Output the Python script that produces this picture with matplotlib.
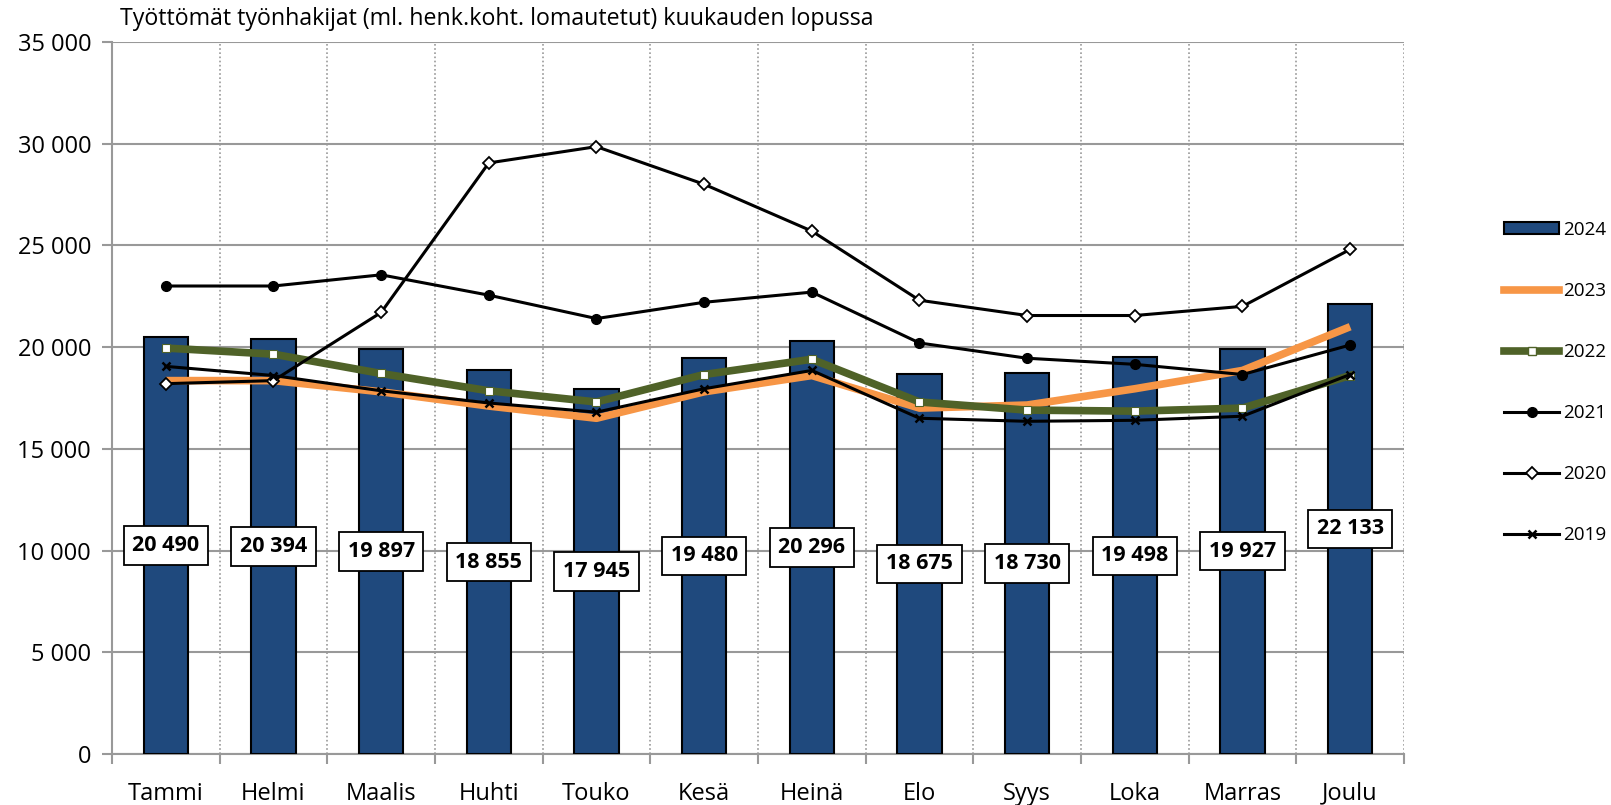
import matplotlib
matplotlib.use("Agg")
import matplotlib.pyplot as plt
from matplotlib.ticker import FuncFormatter, MultipleLocator
from matplotlib.patches import Patch
from matplotlib.lines import Line2D

plt.rcParams['font.family'] = ['Open Sans', 'DejaVu Sans']

months = ["Tammi", "Helmi", "Maalis", "Huhti", "Touko", "Kesä", "Heinä",
          "Elo", "Syys", "Loka", "Marras", "Joulu"]
y2024 = [20490, 20394, 19897, 18855, 17945, 19480, 20296, 18675, 18730, 19498, 19927, 22133]
y2023 = [18350, 18350, 17800, 17100, 16500, 17800, 18600, 17000, 17150, 17950, 18850, 21000]
y2022 = [19950, 19650, 18700, 17850, 17300, 18650, 19400, 17300, 16900, 16850, 17000, 18600]
y2021 = [23000, 23000, 23550, 22550, 21400, 22200, 22700, 20200, 19450, 19150, 18650, 20100]
y2020 = [18200, 18350, 21700, 29050, 29850, 28000, 25700, 22300, 21550, 21550, 22000, 24800]
y2019 = [19050, 18600, 17850, 17250, 16800, 17950, 18850, 16500, 16350, 16400, 16600, 18650]

title = "Työttömät työnhakijat (ml. henk.koht. lomautetut) kuukauden lopussa"

fig = plt.figure(figsize=(16.11, 8.05), dpi=100)
ax = fig.add_axes([0.0695, 0.0634, 0.8020, 0.8846])

x = list(range(len(months)))
grid_c = "#999999"

bars = ax.bar(x, y2024, width=0.41, color="#1F497D", edgecolor="black", linewidth=1.5, zorder=3)
l23, = ax.plot(x, y2023, color="#F79646", lw=5.5, zorder=4, solid_capstyle='butt')
l22, = ax.plot(x, y2022, color="#4F6228", lw=5.5, marker='s', ms=5.5, mfc='white',
               mec='#4F6228', mew=0.8, zorder=5)
l21, = ax.plot(x, y2021, color="black", lw=2.2, marker='o', ms=7, zorder=6)
l20, = ax.plot(x, y2020, color="black", lw=2.2, marker='D', ms=6.5, mfc='white', mec='black',
               mew=1.3, zorder=6)
l19, = ax.plot(x, y2019, color="black", lw=2.2, marker='x', ms=6, mew=1.8, zorder=6)

for xi, v in zip(x, y2024):
    ax.text(xi, v / 2, f"{v:,}".replace(",", " "), ha='center', va='center',
            fontsize=15.5, fontweight='bold', zorder=7,
            bbox=dict(boxstyle='square,pad=0.4', fc='white', ec='black', lw=1.3))

ax.set_xlim(-0.5, 11.5)
ax.set_ylim(0, 35000)
ax.yaxis.set_major_locator(MultipleLocator(5000))
ax.yaxis.set_major_formatter(FuncFormatter(lambda v, p: f"{int(v):,}".replace(",", " ")))

ax.set_xticks(x)
ax.set_xticklabels(months, fontsize=17)
ax.set_xticks([i - 0.5 for i in range(13)], minor=True)
ax.tick_params(axis='x', which='major', length=0, pad=20)
ax.tick_params(axis='x', which='minor', length=7, color=grid_c, width=1.5, direction='out')
ax.tick_params(axis='y', which='major', length=7, color=grid_c, width=1.5, labelsize=17, pad=8)

ax.grid(axis='y', which='major', color=grid_c, lw=1.5, zorder=0)
ax.grid(axis='x', which='minor', color=grid_c, lw=1.2, ls=(0, (1, 1.5)), zorder=0)
ax.set_axisbelow(True)
for s in ['top', 'right']:
    ax.spines[s].set_visible(False)
for s in ['left', 'bottom']:
    ax.spines[s].set_color(grid_c)
    ax.spines[s].set_linewidth(1.5)

fig.text(0.0745, 0.976, title, fontsize=16.7, ha='left', va='center')

handles = [Patch(fc="#1F497D", ec="black", lw=1.5),
           Line2D([], [], color="#F79646", lw=5.5),
           Line2D([], [], color="#4F6228", lw=5.5, marker='s', ms=5.5, mfc='white', mec='#4F6228'),
           Line2D([], [], color="black", lw=2.2, marker='o', ms=7),
           Line2D([], [], color="black", lw=2.2, marker='D', ms=6.5, mfc='white', mec='black', mew=1.3),
           Line2D([], [], color="black", lw=2.2, marker='x', ms=6, mew=1.8)]
labels = ["2024", "2023", "2022", "2021", "2020", "2019"]
fig.legend(handles, labels, loc='upper left', bbox_to_anchor=(0.929, 0.735),
           frameon=False, fontsize=13.6, labelspacing=2.28, handlelength=2.9,
           handleheight=0.6, handletextpad=0.2, borderaxespad=0)

fig.savefig("out.png", dpi=100)
